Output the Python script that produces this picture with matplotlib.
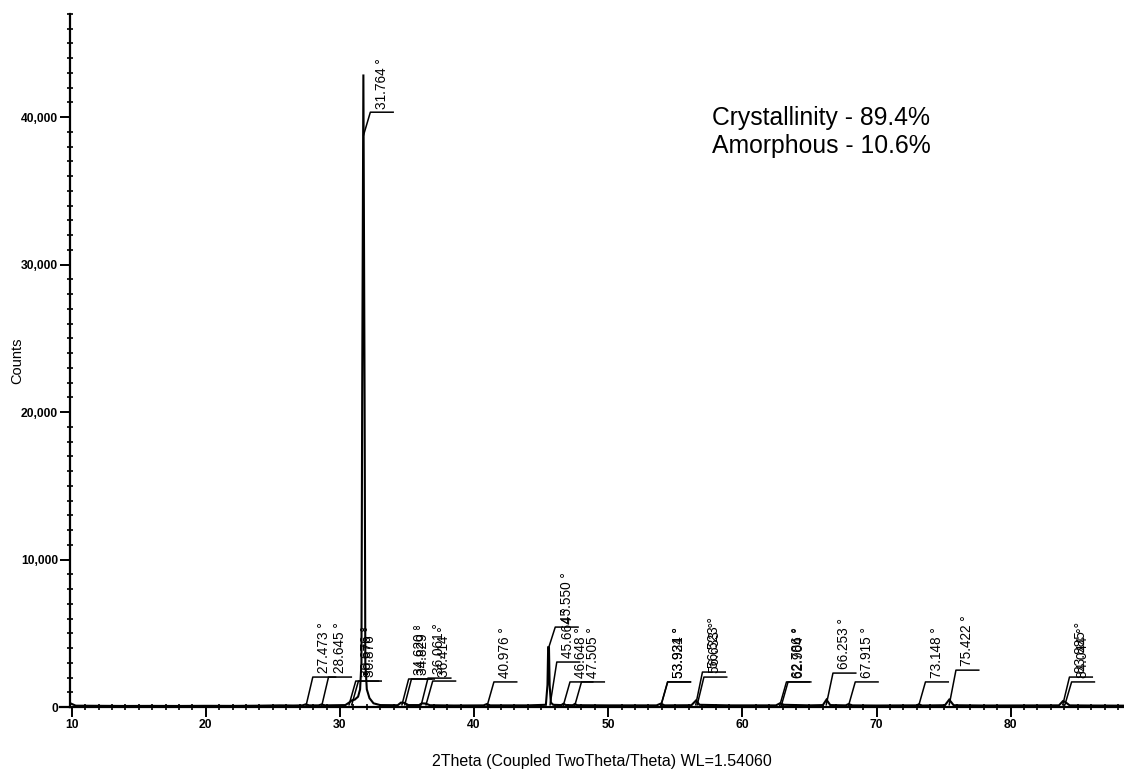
import numpy as np
import matplotlib.pyplot as plt
from matplotlib.ticker import MultipleLocator, FuncFormatter

twotheta = [9.9, 10.3, 12.0, 14.0, 16.0, 18.0, 20.0, 22.0, 24.0, 25.5, 26.5,
            27.2, 27.45, 27.7, 28.4, 28.62, 28.9, 30.4, 30.68, 30.88, 31.1,
            31.35, 31.5, 31.6, 31.655, 31.745, 31.835, 31.89, 32.0, 32.2,
            32.5, 33.0, 34.3, 34.55, 34.8, 35.1, 35.9, 36.1, 36.4, 36.7,
            38.5, 40.7, 40.95, 41.2, 44.0, 45.35, 45.47, 45.52, 45.58, 45.63,
            45.72, 45.9, 46.5, 46.65, 46.85, 47.35, 47.5, 47.7, 50.0, 53.6,
            53.92, 54.2, 56.2, 56.55, 56.8, 59.0, 62.5, 62.8, 63.1, 65.0,
            66.0, 66.27, 66.55, 67.7, 67.92, 68.2, 70.0, 73.0, 73.15, 73.4,
            75.1, 75.42, 75.75, 78.0, 83.6, 83.9, 84.05, 84.4, 86.0, 88.5]
counts = [250, 90, 80, 70, 75, 70, 80, 75, 90, 110, 100,
          110, 180, 110, 110, 170, 110, 130, 300, 450, 500,
          700, 1200, 3000, 21000, 42900, 21000, 3000, 1200, 600,
          250, 130, 120, 300, 280, 130, 130, 250, 230, 120,
          100, 110, 200, 110, 110, 150, 1500, 4050, 4050, 1500,
          300, 150, 130, 220, 130, 120, 200, 120, 110, 110,
          230, 110, 120, 450, 150, 110, 110, 250, 150, 110,
          130, 500, 130, 110, 200, 110, 100, 110, 180, 100,
          120, 500, 120, 100, 110, 400, 350, 110, 100, 90]

# peak labels: position, where the leader starts, height of the bracket
peak_pos = [27.473, 28.645, 30.676, 30.876, 31.764, 34.620, 34.829, 36.061,
            36.414, 40.976, 45.550, 45.664, 46.648, 47.505, 53.921, 53.934,
            56.523, 56.633, 62.786, 62.904, 66.253, 67.915, 73.148, 75.422,
            83.885, 84.044]
peak_start = [100, 100, 150, 150, 38800, 150, 150, 150,
              150, 100, 4000, 150, 100, 100, 100, 100,
              150, 150, 100, 100, 150, 100, 100, 150,
              150, 150]
peak_level = [2030, 2030, 1760, 1760, 40340, 1900, 1900, 1960,
              1760, 1700, 5420, 3050, 1700, 1700, 1700, 1700,
              2370, 2030, 1700, 1700, 2300, 1700, 1700, 2500,
              2030, 1700]

notes = ['Crystallinity - 89.4%', 'Amorphous - 10.6%']

plt.rcParams['font.family'] = ['Liberation Sans', 'DejaVu Sans']

fig = plt.figure(figsize=(11.24, 7.72), dpi=100)
ax = fig.add_axes([70 / 1124, 65 / 772, 1054 / 1124, 693 / 772])

ax.plot(twotheta, counts, color='black', lw=1.5, solid_joinstyle='miter')

# leader + bracket + rotated text for every peak
for pos, start, level in zip(peak_pos, peak_start, peak_level):
    ax.plot([pos, pos + 0.5, pos + 2.2], [start, level, level],
            color='black', lw=1.1)
    ax.text(pos + 1.35, level + 250, '%.3f °' % pos, rotation=90,
            ha='center', va='bottom', fontsize=9.8, color='black')

ax.set_xlim(9.873, 88.45)
ax.set_ylim(0, 47000)

for side in ['top', 'right']:
    ax.spines[side].set_visible(False)
for side in ['left', 'bottom']:
    ax.spines[side].set_linewidth(1.6)

ax.xaxis.set_major_locator(MultipleLocator(10))
ax.xaxis.set_minor_locator(MultipleLocator(1))
ax.yaxis.set_major_locator(MultipleLocator(10000))
ax.yaxis.set_minor_locator(MultipleLocator(1000))
ax.yaxis.set_major_formatter(FuncFormatter(lambda v, p: '{:,.0f}'.format(v)))

ax.tick_params(which='major', direction='out', length=7, width=1.4,
               labelsize=8.7, pad=1.5)
ax.tick_params(which='minor', direction='inout', length=3.8, width=1.2)
for lab in ax.get_xticklabels() + ax.get_yticklabels():
    lab.set_fontweight('bold')
ax.get_xticklabels()[0].set_horizontalalignment('left')

# the x axis line runs a little past the y axis on the left
ax.plot([9.1, 9.873], [0, 0], color='black', lw=1.6, clip_on=False)

ax.set_xlabel('2Theta (Coupled TwoTheta/Theta) WL=1.54060', fontsize=11.5)
ax.xaxis.set_label_coords(0.505, -0.068)
ax.set_ylabel('Counts', fontsize=10.5)
ax.yaxis.set_label_coords(-0.043, 0.5)

fig.text(712 / 1124, 1 - 125 / 772, notes[0], fontsize=17.8, va='baseline')
fig.text(712 / 1124, 1 - 153 / 772, notes[1], fontsize=17.8, va='baseline')

fig.savefig('out.png', dpi=100)
